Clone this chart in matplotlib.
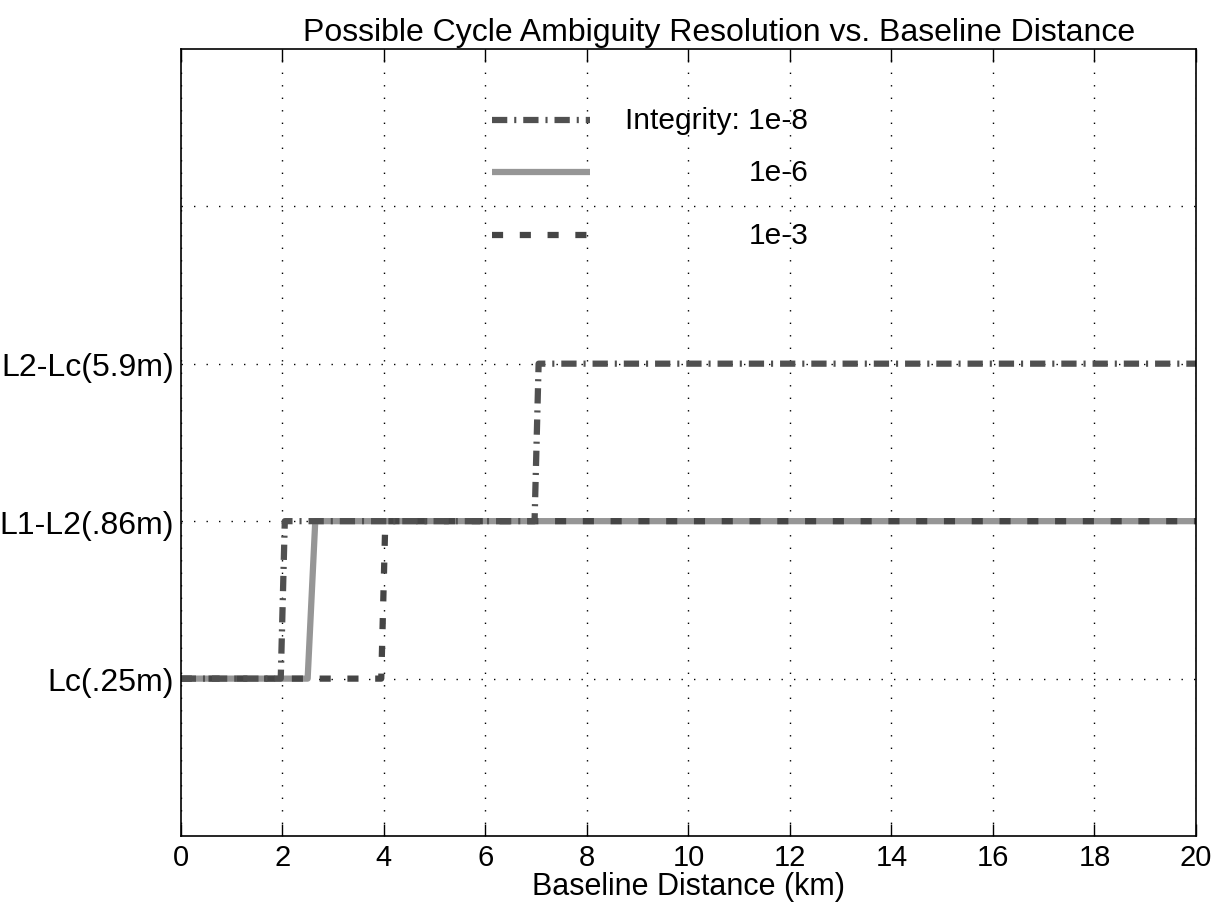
import matplotlib
matplotlib.use("Agg")
import matplotlib.pyplot as plt

plt.rcParams['font.family'] = ['Liberation Sans', 'DejaVu Sans']
plt.rcParams['lines.scale_dashes'] = False

# data: resolvable combination level (1=Lc, 2=L1-L2, 3=L2-Lc) vs baseline (km)
x_1e8 = [0, 1.97, 2.05, 6.97, 7.05, 20]
y_1e8 = [1, 1, 2, 2, 3, 3]
x_1e6 = [0, 2.5, 2.65, 20]
y_1e6 = [1, 1, 2, 2]
x_1e3 = [0, 3.95, 4.03, 20]
y_1e3 = [1, 1, 2, 2]

level_ticks = [1, 2, 3, 4]
level_labels = ['Lc(.25m)', 'L1-L2(.86m)', 'L2-Lc(5.9m)', '']
x_ticks = list(range(0, 21, 2))

series = [
    ("Integrity: 1e-8", x_1e8, y_1e8, dict(color='#505050', lw=4.5, dashes=(11, 5, 1.5, 5))),
    ("1e-6", x_1e6, y_1e6, dict(color='#969696', lw=4.5, linestyle='-')),
    ("1e-3", x_1e3, y_1e3, dict(color='#454545', lw=4.5, dashes=(8, 12))),
]

fig = plt.figure(figsize=(12.13, 9.04), dpi=100)
ax = fig.add_axes([0.149, 0.074, 0.837, 0.871])

# draw solid under the broken lines
for i in [1, 2, 0]:
    name, xs, ys, st = series[i]
    ax.plot(xs, ys, solid_capstyle='butt', dash_capstyle='butt', **st)

# legend drawn by hand (labels right aligned as in the original)
leg_rows = [0.909, 0.844, 0.764]
for (name, xs, ys, st), ry in zip(series, leg_rows):
    ax.plot([0.307, 0.403], [ry, ry], transform=ax.transAxes, clip_on=False,
            solid_capstyle='butt', dash_capstyle='butt', **st)
    ax.text(0.618, ry, name, transform=ax.transAxes, ha='right', va='center', fontsize=21.5)

ax.set_xlim(0, 20)
ax.set_ylim(0, 5)
ax.set_xticks(x_ticks)
ax.set_yticks(level_ticks)
ax.set_yticklabels(level_labels, fontsize=23)
ax.tick_params(axis='x', labelsize=21, direction='in', top=True, length=9, width=1, pad=5)
ax.tick_params(axis='y', direction='in', length=0, pad=5)
ax.grid(True, color='black', linestyle=(0, (1, 8)), linewidth=1)
for s in ax.spines.values():
    s.set_linewidth(1.2)

ax.set_title("Possible Cycle Ambiguity Resolution vs. Baseline Distance", fontsize=23, pad=6, x=0.53)
ax.set_xlabel("Baseline Distance (km)", fontsize=22, labelpad=0)

fig.savefig("out.png", dpi=100)
